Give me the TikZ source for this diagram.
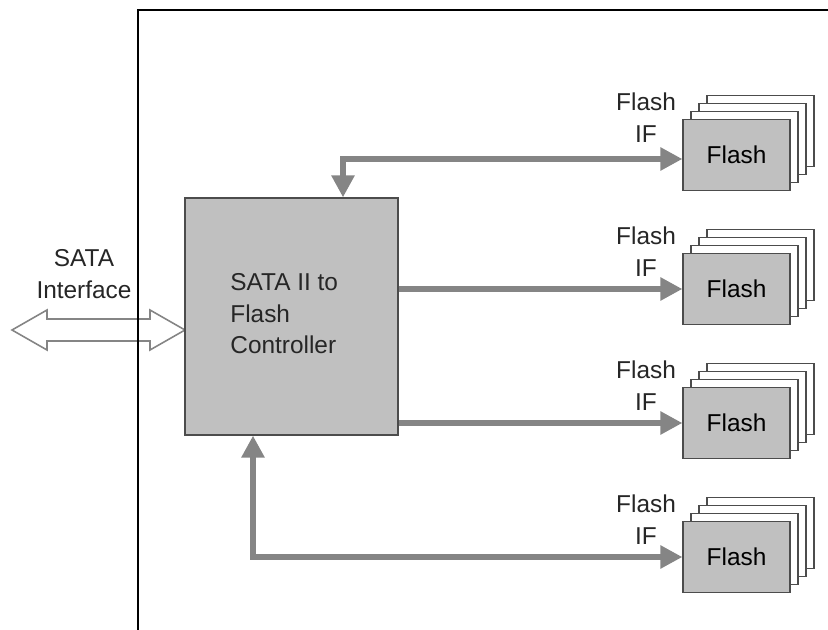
\documentclass[tikz,border=0pt]{standalone}
\usepackage{fontspec}
\setmainfont{Liberation Sans}
\usetikzlibrary{positioning,arrows.meta}
\definecolor{caja}{HTML}{C0C0C0}
\definecolor{gris}{HTML}{858585}

\begin{document}
\begin{tikzpicture}[x=0.5pt, y=-0.5pt, font=\fontsize{12.2}{15.75}\selectfont,
      blk/.style={draw=black!70, fill=caja, line width=0.6pt, inner sep=0pt},
      flashbox/.style={blk, minimum width=53.5pt, minimum height=35.5pt},
      backbox/.style={draw=black!70, fill=white, line width=0.6pt, inner sep=0pt,
                minimum width=53.5pt, minimum height=35.5pt},
      busline/.style={draw=gris, line width=3pt, -{Triangle[length=11pt,width=11pt]}},
      busboth/.style={draw=gris, line width=3pt,
                {Triangle[length=11pt,width=11pt]}-{Triangle[length=11pt,width=11pt]}},
      lbl/.style={text=black!85, align=center, inner sep=0pt}]
    \useasboundingbox (0,0) rectangle (828,630);
    % SATA side
    \node[lbl] (satalbl) at (84,274) {SATA\\Interface};
    \filldraw[draw=gris, fill=white, line width=0.8pt]
      (12,330) -- (47,310) -- (47,319) -- (150,319) -- (150,310) -- (185,330)
      -- (150,350) -- (150,341) -- (47,341) -- (47,350) -- cycle;
    % board frame
    \draw[line width=1.2pt] (138,630) -- (138,10) -- (828,10);
    % controller
    \node[blk, minimum width=106.5pt, minimum height=118.5pt] (ctrl) at (291.5,316.5) {};
    \node[lbl, anchor=west, align=left] (ctrltxt) at (230,314) {SATA II to\\Flash\\Controller};
    % flash stacks
    \foreach \i/\y in {1/155,2/289,3/423,4/557}{
      \foreach \k in {3,2,1}
        \node[backbox] (flash\i b\k) at ({736.5+8*\k},{\y-8*\k}) {};
      \node[flashbox] (flash\i) at (736.5,\y) {Flash};
      \node[lbl] (if\i) at (646,{\y-37.5}) {Flash\\IF};
    }
    % buses
    \draw[busboth] ([xshift=25.75pt]ctrl.north) |- ([yshift=-2pt]flash1.west);
    \draw[busline] (ctrl.east |- flash2.west) -- (flash2.west);
    \draw[busline] (ctrl.east |- flash3.west) -- (flash3.west);
    \draw[busboth] ([xshift=-19.25pt]ctrl.south) |- (flash4.west);
  \end{tikzpicture}
\end{document}
